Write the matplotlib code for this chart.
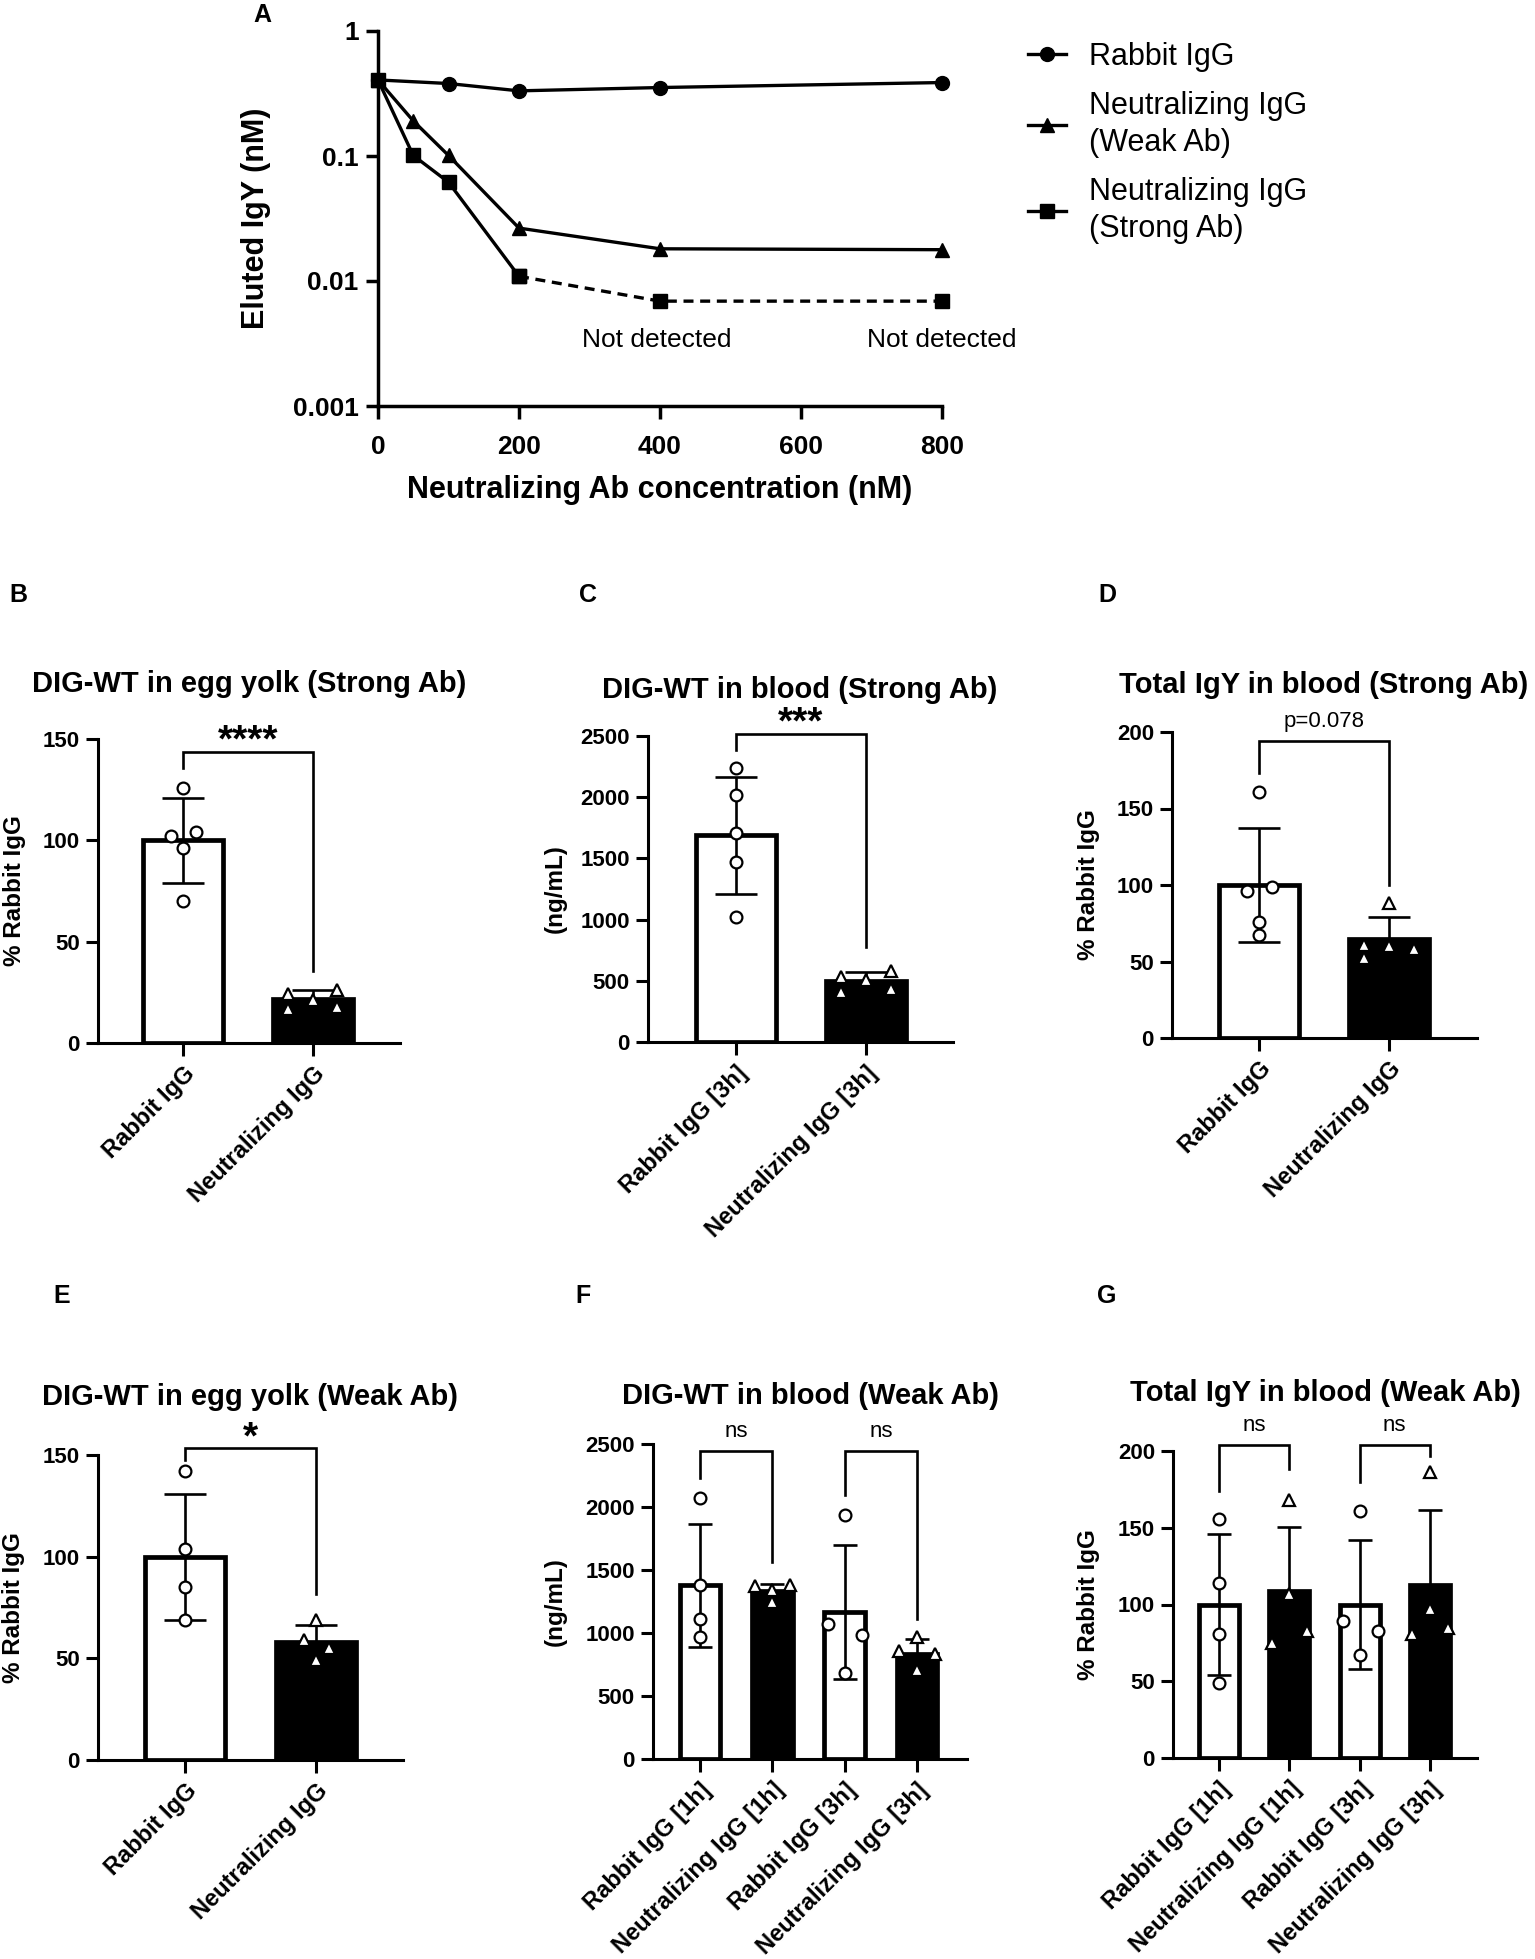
import numpy as np
import matplotlib
matplotlib.use("Agg")
import matplotlib.pyplot as plt
from matplotlib.ticker import NullLocator

plt.rcParams['font.family'] = ['Liberation Sans', 'DejaVu Sans']

W, H = 1535, 1959

# ---- panel A : eluted IgY vs neutralizing Ab concentration ----
a_conc = [0, 50, 100, 200, 400, 800]
a_rabbit_conc = [0, 100, 200, 400, 800]
a_rabbit = [0.406, 0.38, 0.332, 0.353, 0.387]
a_weak = [0.406, 0.191, 0.101, 0.0265, 0.0181, 0.0178]
a_strong = [0.406, 0.101, 0.0617, 0.0109, 0.0069, 0.0069]
a_yticks = [0.001, 0.01, 0.1, 1]
a_yticklabels = ['0.001', '0.01', '0.1', '1']
a_xticks = [0, 200, 400, 600, 800]
a_legend = ['Rabbit IgG', 'Neutralizing IgG\n(Weak Ab)', 'Neutralizing IgG\n(Strong Ab)']

# ---- panel B : DIG-WT in egg yolk (Strong Ab) ----
b_labels = ['Rabbit IgG', 'Neutralizing IgG']
b_means = [100, 21.5]
b_sd = [21, 4.5]
b_points = [[126, 102, 104, 96, 70], [24, 26, 21, 17, 18]]
b_jit = [[0, -0.09, 0.10, 0, 0], [-0.19, 0.185, 0, -0.19, 0.185]]

# ---- panel C : DIG-WT in blood (Strong Ab) ----
c_labels = ['Rabbit IgG [3h]', 'Neutralizing IgG [3h]']
c_means = [1690, 495]
c_sd = [478, 80]
c_points = [[2240, 2020, 1710, 1470, 1020], [530, 509, 578, 409, 433]]
c_jit = [[0, 0, 0, 0, 0], [-0.19, 0, 0.19, -0.19, 0.19]]

# ---- panel D : Total IgY in blood (Strong Ab) ----
d_labels = ['Rabbit IgG', 'Neutralizing IgG']
d_means = [100, 65]
d_sd = [37, 14]
d_points = [[161, 96, 99, 76, 67], [88, 61, 60, 58, 52]]
d_jit = [[0, -0.09, 0.10, 0, 0], [0, -0.19, 0, 0.19, -0.19]]

# ---- panel E : DIG-WT in egg yolk (Weak Ab) ----
e_labels = ['Rabbit IgG', 'Neutralizing IgG']
e_means = [100, 58]
e_sd = [31, 8.5]
e_points = [[142, 104, 85, 69], [69, 59, 55, 49]]
e_jit = [[0, 0, 0, 0], [0, -0.095, 0.097, 0]]

# ---- panel F : DIG-WT in blood (Weak Ab) ----
f_labels = ['Rabbit IgG [1h]', 'Neutralizing IgG [1h]', 'Rabbit IgG [3h]', 'Neutralizing IgG [3h]']
f_means = [1378, 1335, 1167, 835]
f_sd = [490, 55, 530, 118]
f_points = [[2070, 1380, 1110, 965], [1375, 1380, 1340, 1245],
            [1935, 1070, 985, 685], [965, 855, 830, 710]]
f_jit = [[0, 0, 0, 0], [-0.24, 0.24, 0, 0], [0, -0.23, 0.24, 0], [0, -0.25, 0.25, 0]]

# ---- panel G : Total IgY in blood (Weak Ab) ----
g_labels = f_labels
g_means = [100, 108.5, 100, 112.5]
g_sd = [46, 42, 42, 49]
g_points = [[156, 114, 81, 49], [168, 107, 83, 75], [161, 89, 83, 67], [186, 97, 85, 81]]
g_jit = [[0, 0, 0, 0], [0, 0, 0.25, -0.25], [0, -0.23, 0.26, 0], [0, 0, 0.25, -0.25]]

# brackets: (left bar, right bar, top y, left leg end, right leg end, text)
b_brackets = [(0, 1, 143.7, 135.8, 35.5, '****')]
c_brackets = [(0, 1, 2517, 2389, 779, '***')]
d_brackets = [(0, 1, 194, 173, 100, 'p=0.078')]
e_brackets = [(0, 1, 153.3, 147.4, 81.7, '*')]
f_brackets = [(0, 1, 2448, 2230, 1565, 'ns'), (2, 3, 2448, 2097, 1110, 'ns')]
g_brackets = [(0, 1, 204, 174, 188.5, 'ns'), (2, 3, 204, 180, 197, 'ns')]


fig = plt.figure(figsize=(W / 100, H / 100), dpi=100)


def place(left, top, right, bottom):
  return fig.add_axes([left / W, 1 - bottom / H, (right - left) / W, (bottom - top) / H])


def style_axes(ax, lw=2.2):
  for s in ['top', 'right']:
    ax.spines[s].set_visible(False)
  for s in ['left', 'bottom']:
    ax.spines[s].set_linewidth(lw)
  ax.tick_params(direction='out', length=9, width=lw)


def bar_panel(box, labels, means, sds, points, jit, ylim, yticks, ylabel,
              brackets, xlim, width, capsize, ylab_x):
  ax = place(*box)
  style_axes(ax)
  x = np.arange(len(labels))
  colors = ['white' if i % 2 == 0 else 'black' for i in x]
  ax.bar(x, means, width=width, color=colors, edgecolor='black', linewidth=3.4, zorder=1)
  ax.errorbar(x, means, yerr=sds, fmt='none', ecolor='black', elinewidth=1.9,
              capsize=capsize, capthick=1.9, zorder=2)
  for i in x:
    mk = 'o' if i % 2 == 0 else '^'
    ax.plot(x[i] + np.array(jit[i]), points[i], linestyle='none', marker=mk, ms=8.5,
            mfc='white', mec='black', mew=1.6, zorder=3, clip_on=False)
  for (i, j, y, yl, yr, txt) in brackets:
    ax.plot([i, i, j, j], [yl, y, y, yr], color='black', lw=1.9, clip_on=False,
            solid_joinstyle='miter')
    if '*' in txt:
      ax.annotate(txt, xy=((i + j) / 2, y), xytext=(0, 0), textcoords='offset points',
                  ha='center', va='baseline', fontsize=28, fontweight='bold',
                  annotation_clip=False)
    else:
      ax.annotate(txt, xy=((i + j) / 2, y), xytext=(0, 10), textcoords='offset points',
                  ha='center', va='baseline', fontsize=16, annotation_clip=False)
  ax.set_xlim(*xlim)
  ax.set_ylim(*ylim)
  ax.set_yticks(yticks)
  ax.set_xticks(x)
  ax.set_xticklabels(labels, rotation=45, ha='right', va='top', rotation_mode='anchor',
                     fontsize=17, fontweight='bold')
  for lab in ax.get_yticklabels():
    lab.set_fontsize(16)
    lab.set_fontweight('bold')
  ax.tick_params(axis='y', pad=4)
  ax.tick_params(axis='x', pad=5)
  ax.set_ylabel(ylabel, fontsize=17.5, fontweight='bold')
  ax.yaxis.set_label_coords(ylab_x, 0.5)
  return ax


# ---------------- panel A ----------------
axA = place(378, 31, 942, 406)
style_axes(axA, 2.5)
axA.set_yscale('log')
lr, = axA.plot(a_rabbit_conc, a_rabbit, color='black', lw=2.4, marker='o', ms=10, clip_on=False)
lw_, = axA.plot(a_conc, a_weak, color='black', lw=2.4, marker='^', ms=10.5, clip_on=False)
ls, = axA.plot(a_conc[:4], a_strong[:4], color='black', lw=2.4, marker='s', ms=9.5, clip_on=False)
axA.plot(a_conc[3:], a_strong[3:], color='black', lw=2.4, ls=(0, (3, 2)), marker='s', ms=9.5,
         clip_on=False)
axA.set_xlim(0, 800)
axA.set_ylim(0.001, 1)
axA.set_xticks(a_xticks)
axA.set_yticks(a_yticks)
axA.set_yticklabels(a_yticklabels)
axA.yaxis.set_minor_locator(NullLocator())
for lab in axA.get_xticklabels() + axA.get_yticklabels():
  lab.set_fontsize(19)
  lab.set_fontweight('bold')
axA.tick_params(axis='x', pad=12)
axA.tick_params(axis='y', pad=5)
axA.set_xlabel('Neutralizing Ab concentration (nM)', fontsize=22, fontweight='bold')
axA.xaxis.set_label_coords(0.5, -0.185)
axA.set_ylabel('Eluted IgY (nM)', fontsize=22, fontweight='bold')
axA.yaxis.set_label_coords(-0.19, 0.5)
axA.text(395, 0.0034, 'Not detected', ha='center', va='center', fontsize=19)
axA.text(800, 0.0034, 'Not detected', ha='center', va='center', fontsize=19)
leg = fig.legend([lr, lw_, ls], a_legend, loc='upper left', bbox_to_anchor=(1028 / W, 1 - 42 / H),
                 bbox_transform=fig.transFigure, frameon=False, fontsize=22, handlelength=1.25,
                 handletextpad=0.75, labelspacing=0.62, borderpad=0, borderaxespad=0)
for t in leg.get_texts():
  t.set_linespacing(1.3)

# ---------------- bar panels ----------------
axB = bar_panel((98, 739, 400, 1043), b_labels, b_means, b_sd, b_points, b_jit, (0, 150),
                [0, 50, 100, 150], '% Rabbit IgG', b_brackets,
                (-0.654, 1.669), 0.61, 15, -0.24)
axC = bar_panel((648, 736, 953, 1042), c_labels, c_means, c_sd, c_points, c_jit, (0, 2500),
                [0, 500, 1000, 1500, 2000, 2500], '(ng/mL)', c_brackets,
                (-0.677, 1.669), 0.61, 15, -0.266)
axD = bar_panel((1172, 732, 1477, 1038), d_labels, d_means, d_sd, d_points, d_jit, (0, 200),
                [0, 50, 100, 150, 200], '% Rabbit IgG', d_brackets,
                (-0.669, 1.677), 0.61, 15, -0.236)
axE = bar_panel((98, 1455, 403, 1760), e_labels, e_means, e_sd, e_points, e_jit, (0, 150),
                [0, 50, 100, 150], '% Rabbit IgG', e_brackets,
                (-0.664, 1.664), 0.61, 15, -0.24)
axF = bar_panel((653, 1444, 967, 1759), f_labels, f_means, f_sd, f_points, f_jit, (0, 2500),
                [0, 500, 1000, 1500, 2000, 2500], '(ng/mL)', f_brackets,
                (-0.65, 3.69), 0.56, 8.5, -0.274)
axG = bar_panel((1173, 1451, 1477, 1758), g_labels, g_means, g_sd, g_points, g_jit, (0, 200),
                [0, 50, 100, 150, 200], '% Rabbit IgG', g_brackets,
                (-0.654, 3.669), 0.57, 8.5, -0.24)

# titles, placed by baseline in figure pixels
titles = [('DIG-WT in egg yolk (Strong Ab)', 249, 692), ('DIG-WT in blood (Strong Ab)', 800, 698),
          ('Total IgY in blood (Strong Ab)', 1324, 693), ('DIG-WT in egg yolk (Weak Ab)', 250, 1405),
          ('DIG-WT in blood (Weak Ab)', 810, 1404), ('Total IgY in blood (Weak Ab)', 1325, 1401)]
for txt, tx, ty in titles:
  fig.text(tx / W, 1 - ty / H, txt, ha='center', va='baseline', fontsize=21, fontweight='bold')

# panel letters
letters = [('A', 262, 15), ('B', 18, 595), ('C', 588, 595), ('D', 1107, 595),
           ('E', 62, 1296), ('F', 583, 1296), ('G', 1107, 1296)]
for txt, tx, ty in letters:
  fig.text(tx / W, 1 - ty / H, txt, ha='center', va='center', fontsize=18, fontweight='bold')

fig.savefig('out.png', dpi=100)
